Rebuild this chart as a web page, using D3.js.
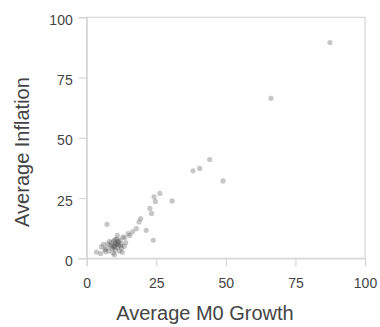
<!DOCTYPE html>
<html>
<head>
<meta charset="utf-8">
<script src="https://cdn.jsdelivr.net/npm/d3@7"></script>
<style>
  body { margin: 0; background: #fff; }
  svg { display: block; font-family: "Liberation Sans", Arial, sans-serif; }
</style>
</head>
<body>
<div id="chart"></div>
<script>
// average M0 growth (x) and average inflation (y), one entry per country
const m0Growth = [
  87.4, 66.2, 44.2, 38.2, 40.6, 49.0, 30.7, 26.3, 24.2, 24.7,
  22.7, 23.3, 23.9, 21.4, 19.4, 18.8, 17.8, 7.3, 14.9, 13.7,
  16.5, 15.5,
  3.5, 5.3, 6.5, 6.0, 7.0, 8.0, 8.5, 9.0, 9.2, 9.8,
  10.0, 10.3, 10.5, 10.8, 11.0, 11.2, 11.5, 11.8, 12.0, 12.3,
  12.5, 13.0, 12.8, 8.2, 7.5, 9.5, 13.5, 14.0, 11.0, 10.0,
  5.0, 6.8, 9.6, 10.4, 10.9, 9.9, 11.4, 10.2, 12.2, 8.8
];
const inflation = [
  89.5, 66.4, 41.0, 36.3, 37.3, 32.1, 23.8, 26.9, 25.5, 23.6,
  20.7, 18.6, 7.5, 11.6, 16.5, 15.1, 12.3, 14.1, 10.3, 8.6,
  11.0, 9.5,
  2.6, 4.7, 3.6, 5.8, 4.2, 3.0, 5.5, 6.5, 4.0, 7.2,
  5.0, 3.5, 6.0, 8.0, 4.5, 6.8, 5.5, 3.0, 7.5, 6.0,
  4.2, 8.8, 2.5, 7.0, 6.0, 2.2, 5.0, 6.5, 9.5, 1.5,
  2.0, 2.8, 5.3, 6.4, 5.8, 4.6, 7.0, 7.8, 5.2, 4.8
];
const tickValues = [0, 25, 50, 75, 100];

const W = 380, H = 327;
const plotLeft = 86.7, plotRight = 365, plotTop = 17.3, plotBottom = 258.3;

const svg = d3.select("#chart")
  .append("svg")
  .attr("width", W)
  .attr("height", H);

const x = d3.scaleLinear().domain([0, 100]).range([plotLeft, plotRight]);
const y = d3.scaleLinear().domain([0, 100]).range([plotBottom, plotTop]);

// frame
svg.append("rect")
  .attr("x", plotLeft).attr("y", plotTop)
  .attr("width", plotRight - plotLeft).attr("height", plotBottom - plotTop)
  .attr("fill", "none")
  .attr("stroke", "#d6d6d6")
  .attr("stroke-width", 1.2);

const xAxis = svg.append("g")
  .attr("transform", `translate(0, ${plotBottom})`)
  .call(d3.axisBottom(x).tickValues(tickValues).tickSize(8).tickPadding(12));

const yAxis = svg.append("g")
  .attr("transform", `translate(${plotLeft}, 0)`)
  .call(d3.axisLeft(y).tickValues(tickValues).tickSize(8).tickPadding(6));

[xAxis, yAxis].forEach((g) => {
  g.select(".domain").attr("stroke", "#d6d6d6").attr("stroke-width", 1.2);
  g.selectAll(".tick line").attr("stroke", "#d6d6d6").attr("stroke-width", 1.2);
  g.selectAll(".tick text")
    .attr("fill", "#444")
    .style("font-size", "14px")
    .style("font-family", "'Liberation Sans', Arial, sans-serif");
});
yAxis.selectAll(".tick text").attr("dy", "0.5em");

// points
svg.append("g")
  .selectAll("circle")
  .data(m0Growth.map((d, i) => [d, inflation[i]]))
  .enter()
  .append("circle")
  .attr("cx", (d) => x(d[0]))
  .attr("cy", (d) => y(d[1]))
  .attr("r", 2.6)
  .attr("fill", "#555")
  .attr("fill-opacity", 0.33);

// titles
svg.append("text")
  .attr("x", 205)
  .attr("y", 320)
  .attr("text-anchor", "middle")
  .attr("fill", "#444")
  .style("font-size", "20px")
  .text("Average M0 Growth");

svg.append("text")
  .attr("transform", "translate(29, 152) rotate(-90)")
  .attr("text-anchor", "middle")
  .attr("fill", "#444")
  .style("font-size", "20px")
  .text("Average Inflation");
</script>
</body>
</html>
